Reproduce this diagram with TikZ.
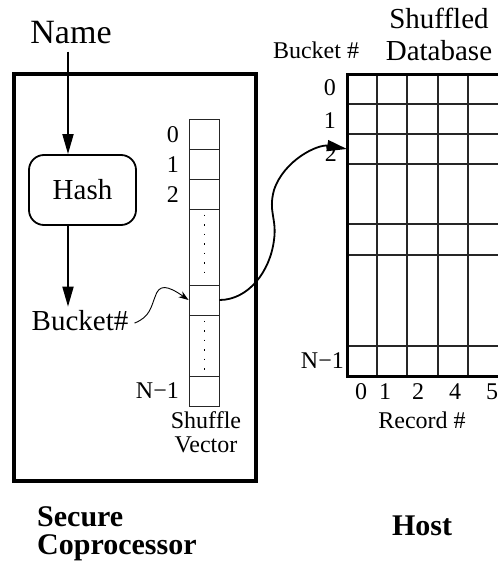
\documentclass[tikz,border=0pt]{standalone}
\usepackage{fontspec}
\setmainfont{Liberation Serif}
\usetikzlibrary{arrows.meta}
\newcommand\bigsz{\fontsize{34}{38}\selectfont}
\newcommand\midsz{\fontsize{29}{32}\selectfont}
\newcommand\smlsz{\fontsize{24}{24}\selectfont}
\tikzstyle{txt} = [inner sep=0pt]
\tikzstyle{svcell} = [rectangle, draw=black!85, line width=0.9pt, minimum width=30pt, inner sep=0pt]
\tikzstyle{gridline} = [draw=black!85, line width=1.3pt]
\tikzstyle{dots} = [line width=1pt, dash pattern=on 1.5pt off 8pt]
\tikzstyle{bigarrow} = [line width=1.8pt, -{Triangle[length=20pt,width=11pt]}]
\tikzstyle{thinarrow} = [line width=0.9pt, -{Stealth[length=10pt,width=7pt]}]

\begin{document}
\begin{tikzpicture}[x=1pt,y=-1pt]
\useasboundingbox (0,0) rectangle (498,562);
% secure coprocessor side
\node (cpu) [draw, line width=4pt, minimum width=242pt, minimum height=407pt, inner sep=0pt] at (135,277.5) {};
\node (name) [txt, font=\bigsz, anchor=base] at (71,43) {Name};
\node (hash) [draw, rounded corners=15pt, line width=1.8pt, minimum width=107pt, minimum height=70pt, font=\midsz] at (82.5,190) {Hash};
\node (bucket) [txt, font=\midsz, anchor=base] at (80,330) {Bucket\#};
\coordinate (ax) at (68,0);
\draw [bigarrow] ([yshift=-8pt]name.south -| ax) -- (hash.north -| ax);
\draw [bigarrow] (hash.south -| ax) -- ([yshift=3pt]bucket.north -| ax);
% shuffle vector
\node (v0) [svcell, minimum height=30pt] at (204,134) {};
\node (v1) [svcell, minimum height=30pt] at (204,164) {};
\node (v2) [svcell, minimum height=30pt] at (204,194) {};
\node (gapa) [svcell, minimum height=76pt] at (204,247) {};
\node (hit) [svcell, minimum height=30pt] at (204,300) {};
\node (gapb) [svcell, minimum height=61pt] at (204,345.5) {};
\node (vn) [svcell, minimum height=30pt] at (204,391) {};
\draw [dots] ([yshift=-6pt]gapa.north) -- ([yshift=6pt]gapa.south);
\draw [dots] ([yshift=-6pt]gapb.north) -- ([yshift=6pt]gapb.south);
\node (l0) [txt, font=\smlsz, anchor=base east] at (179,142) {0};
\node (l1) [txt, font=\smlsz, anchor=base east] at (179,172) {1};
\node (l2) [txt, font=\smlsz, anchor=base east] at (179,202) {2};
\node (ln) [txt, font=\smlsz, anchor=base east] at (179,398) {N−1};
\node (svname) [txt, font=\smlsz, align=center, anchor=north] at (206,411) {Shuffle\\Vector};
\draw [thinarrow] ([shift={(6pt,-3pt)}]bucket.east) .. controls (150,317) and (151,307) .. (155,297) .. controls (159,284) and (167,285) .. (hit.west);
% host: shuffled database
\foreach \y in {104,134,164,224,255,346}
  \draw [gridline] (347,\y) -- (498,\y);
\foreach \x in {377,407,438,468}
  \draw [gridline] (\x,74) -- (\x,376);
\draw [line width=3pt] (498,74) -- (347,74) -- (347,376) -- (498,376);
\coordinate (row2) at (347,149);
\node (db0) [txt, font=\smlsz, anchor=base east] at (336,95) {0};
\node (db1) [txt, font=\smlsz, anchor=base east] at (336,128) {1};
\node (db2) [txt, font=\smlsz, anchor=base east] at (337,161) {2};
\node (dbn) [txt, font=\smlsz, anchor=base east] at (344,368) {N−1};
\foreach \x/\d in {361/0,385/1,418/2,455/4,492/5}
  \node (r\d) [txt, font=\smlsz, anchor=base] at (\x,399) {\d};
\node (recno) [txt, font=\smlsz, anchor=base] at (422,428) {Record \#};
\node (bktno) [txt, font=\smlsz, anchor=base] at (316,58) {Bucket \#};
\node (dbname) [txt, font=\midsz, align=center, anchor=north] at (439,8) {Shuffled\\Database};
\draw [bigarrow] (hit.east) .. controls (248,300) and (270,272) .. (274,240) .. controls (277,218) and (268,212) .. (274,190) .. controls (284,160) and (318,144) .. (row2);
% bottom captions
\node (secure) [txt, font=\fontsize{30}{28}\selectfont\bfseries, align=left, anchor=north west] at (37,506) {Secure\\Coprocessor};
\node (host) [txt, font=\fontsize{30}{28}\selectfont\bfseries, anchor=base] at (422,535) {Host};
\end{tikzpicture}
\end{document}
